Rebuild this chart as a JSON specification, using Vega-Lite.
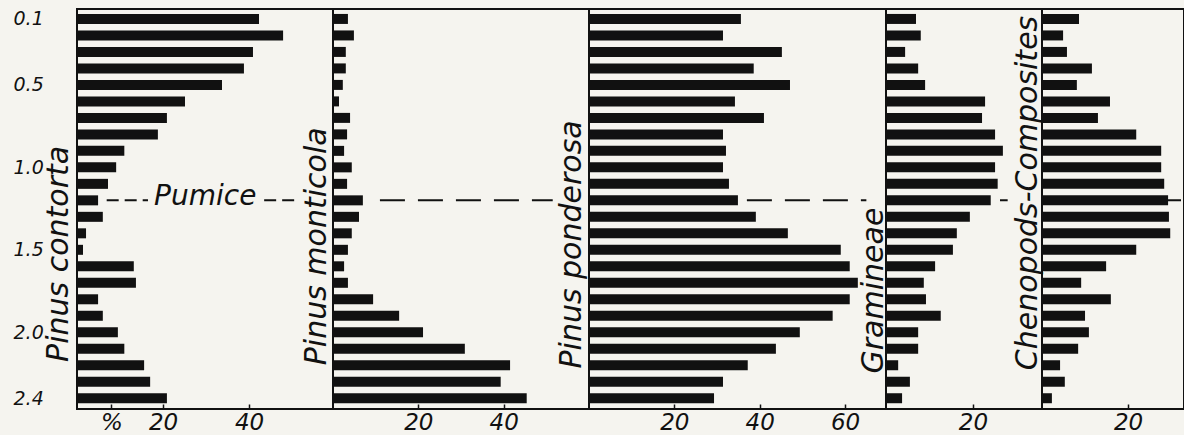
{
  "$schema": "https://vega.github.io/schema/vega-lite/v6.json",
  "background": "#f5f4ef",
  "padding": {"left": 12, "top": 8, "right": 0, "bottom": 0},
  "bounds": "flush",
  "spacing": 0,
  "config": {
    "view": {"stroke": "#111", "strokeWidth": 2},
    "axis": {"grid": false, "domain": false, "title": null, "labelColor": "#111", "labelFont": "DejaVu Sans", "labelFontStyle": "italic", "tickColor": "#111"},
    "axisX": {"labelFontSize": 23, "tickSize": -5, "tickWidth": 1.5, "labelPadding": 7, "labelFlush": false, "labelOverlap": false, "labelBound": false}
  },
  "datasets": {
    "pollen": [
      {"depth": 0.1, "contorta": 42.3, "monticola": 3.5, "ponderosa": 35.6, "gramineae": 6.9, "chenopods": 8.6},
      {"depth": 0.2, "contorta": 47.9, "monticola": 4.9, "ponderosa": 31.4, "gramineae": 8.0, "chenopods": 4.9},
      {"depth": 0.3, "contorta": 40.9, "monticola": 3.0, "ponderosa": 45.2, "gramineae": 4.4, "chenopods": 5.8},
      {"depth": 0.4, "contorta": 38.8, "monticola": 3.0, "ponderosa": 38.6, "gramineae": 7.4, "chenopods": 11.6},
      {"depth": 0.5, "contorta": 33.7, "monticola": 2.3, "ponderosa": 47.1, "gramineae": 9.0, "chenopods": 8.1},
      {"depth": 0.6, "contorta": 25.1, "monticola": 1.4, "ponderosa": 34.2, "gramineae": 22.8, "chenopods": 15.8},
      {"depth": 0.7, "contorta": 20.9, "monticola": 4.0, "ponderosa": 41.0, "gramineae": 22.1, "chenopods": 13.0},
      {"depth": 0.8, "contorta": 18.8, "monticola": 3.3, "ponderosa": 31.4, "gramineae": 25.1, "chenopods": 21.9},
      {"depth": 0.9, "contorta": 11.0, "monticola": 2.6, "ponderosa": 32.1, "gramineae": 26.9, "chenopods": 27.7},
      {"depth": 1.0, "contorta": 9.1, "monticola": 4.4, "ponderosa": 31.4, "gramineae": 25.1, "chenopods": 27.7},
      {"depth": 1.1, "contorta": 7.2, "monticola": 3.3, "ponderosa": 32.8, "gramineae": 25.7, "chenopods": 28.4},
      {"depth": 1.2, "contorta": 4.9, "monticola": 7.0, "ponderosa": 34.9, "gramineae": 24.1, "chenopods": 29.3},
      {"depth": 1.3, "contorta": 6.0, "monticola": 6.1, "ponderosa": 39.1, "gramineae": 19.3, "chenopods": 29.5},
      {"depth": 1.4, "contorta": 2.1, "monticola": 4.4, "ponderosa": 46.6, "gramineae": 16.3, "chenopods": 29.8},
      {"depth": 1.5, "contorta": 1.4, "monticola": 3.5, "ponderosa": 59.0, "gramineae": 15.4, "chenopods": 21.9},
      {"depth": 1.6, "contorta": 13.2, "monticola": 2.6, "ponderosa": 61.1, "gramineae": 11.3, "chenopods": 14.9},
      {"depth": 1.7, "contorta": 13.7, "monticola": 3.5, "ponderosa": 63.0, "gramineae": 8.7, "chenopods": 9.1},
      {"depth": 1.8, "contorta": 4.9, "monticola": 9.4, "ponderosa": 61.1, "gramineae": 9.2, "chenopods": 16.0},
      {"depth": 1.9, "contorta": 6.0, "monticola": 15.5, "ponderosa": 57.1, "gramineae": 12.6, "chenopods": 10.0},
      {"depth": 2.0, "contorta": 9.5, "monticola": 21.1, "ponderosa": 49.4, "gramineae": 7.4, "chenopods": 10.9},
      {"depth": 2.1, "contorta": 11.0, "monticola": 30.9, "ponderosa": 43.8, "gramineae": 7.4, "chenopods": 8.4},
      {"depth": 2.2, "contorta": 15.6, "monticola": 41.5, "ponderosa": 37.2, "gramineae": 2.8, "chenopods": 4.2},
      {"depth": 2.3, "contorta": 17.0, "monticola": 39.3, "ponderosa": 31.4, "gramineae": 5.5, "chenopods": 5.3},
      {"depth": 2.4, "contorta": 20.9, "monticola": 45.4, "ponderosa": 29.3, "gramineae": 3.7, "chenopods": 2.3}
    ]
  },
  "hconcat": [
    {
      "width": 256, "height": 400,
      "layer": [
        {
          "data": {"values": [{"from": 6.9, "to": 16.5}, {"from": 43.5, "to": 51.0}]},
          "mark": {"type": "rule", "color": "#111", "strokeWidth": 2, "strokeDash": [12, 6]},
          "encoding": {"x": {"field": "from", "type": "quantitative"}, "x2": {"field": "to"}, "y": {"datum": 1.2}}
        },
        {
          "data": {"name": "pollen"},
          "mark": {"type": "bar", "orient": "horizontal", "size": 10, "color": "#111"},
          "encoding": {
            "x": {"field": "contorta", "type": "quantitative", "scale": {"domain": [0, 59.5], "nice": false, "zero": true}, "axis": {"values": [8, 20, 40], "labelExpr": "datum.value == 8 ? '%' : datum.label"}},
            "y": {"field": "depth", "type": "quantitative", "scale": {"domain": [0.07, 2.435], "reverse": true, "nice": false, "zero": false}, "axis": {"values": [0.1, 0.5, 1.0, 1.5, 2.0, 2.4], "format": ".1f", "labelAlign": "left", "labelPadding": 64, "ticks": false, "labelFontSize": 19}}
          }
        },
        {
          "data": {"values": [{"label": "Pumice"}]},
          "mark": {"type": "text", "align": "center", "baseline": "alphabetic", "dy": 5, "font": "DejaVu Sans", "fontStyle": "italic", "fontSize": 28, "color": "#111"},
          "encoding": {"x": {"datum": 29.8}, "y": {"datum": 1.2}, "text": {"field": "label"}}
        },
        {
          "data": {"values": [{"name": "Pinus contorta"}]},
          "mark": {"type": "text", "angle": -90, "align": "left", "baseline": "alphabetic", "dy": -9, "font": "DejaVu Sans", "fontStyle": "italic", "fontSize": 30, "color": "#111"},
          "encoding": {"x": {"datum": 0}, "y": {"datum": 2.18}, "text": {"field": "name"}}
        }
      ]
    },
    {
      "width": 256, "height": 400,
      "layer": [
        {
          "data": {"values": [{"from": 11, "to": 51.5}]},
          "mark": {"type": "rule", "color": "#111", "strokeWidth": 2, "strokeDash": [25, 13]},
          "encoding": {"x": {"field": "from", "type": "quantitative"}, "x2": {"field": "to"}, "y": {"datum": 1.2}}
        },
        {
          "data": {"name": "pollen"},
          "mark": {"type": "bar", "orient": "horizontal", "size": 10, "color": "#111"},
          "encoding": {
            "x": {"field": "monticola", "type": "quantitative", "scale": {"domain": [0, 60], "nice": false, "zero": true}, "axis": {"values": [20, 40]}},
            "y": {"field": "depth", "type": "quantitative", "scale": {"domain": [0.07, 2.435], "reverse": true, "nice": false, "zero": false}, "axis": null}
          }
        },
        {
          "data": {"values": [{"name": "Pinus monticola"}]},
          "mark": {"type": "text", "angle": -90, "align": "left", "baseline": "alphabetic", "dy": -7, "font": "DejaVu Sans", "fontStyle": "italic", "fontSize": 30, "color": "#111"},
          "encoding": {"x": {"datum": 0}, "y": {"datum": 2.2}, "text": {"field": "name"}}
        }
      ]
    },
    {
      "width": 297, "height": 400,
      "layer": [
        {
          "data": {"values": [{"from": 37, "to": 65}]},
          "mark": {"type": "rule", "color": "#111", "strokeWidth": 2, "strokeDash": [25, 13]},
          "encoding": {"x": {"field": "from", "type": "quantitative"}, "x2": {"field": "to"}, "y": {"datum": 1.2}}
        },
        {
          "data": {"name": "pollen"},
          "mark": {"type": "bar", "orient": "horizontal", "size": 10, "color": "#111"},
          "encoding": {
            "x": {"field": "ponderosa", "type": "quantitative", "scale": {"domain": [0, 69.6], "nice": false, "zero": true}, "axis": {"values": [20, 40, 60]}},
            "y": {"field": "depth", "type": "quantitative", "scale": {"domain": [0.07, 2.435], "reverse": true, "nice": false, "zero": false}, "axis": null}
          }
        },
        {
          "data": {"values": [{"name": "Pinus ponderosa"}]},
          "mark": {"type": "text", "angle": -90, "align": "left", "baseline": "alphabetic", "dy": -8, "font": "DejaVu Sans", "fontStyle": "italic", "fontSize": 30, "color": "#111"},
          "encoding": {"x": {"datum": 0}, "y": {"datum": 2.22}, "text": {"field": "name"}}
        }
      ]
    },
    {
      "width": 156, "height": 400,
      "layer": [
        {
          "data": {"values": [{"from": 0, "to": 28}]},
          "mark": {"type": "rule", "color": "#111", "strokeWidth": 2, "strokeDash": [25, 13]},
          "encoding": {"x": {"field": "from", "type": "quantitative"}, "x2": {"field": "to"}, "y": {"datum": 1.2}}
        },
        {
          "data": {"name": "pollen"},
          "mark": {"type": "bar", "orient": "horizontal", "size": 10, "color": "#111"},
          "encoding": {
            "x": {"field": "gramineae", "type": "quantitative", "scale": {"domain": [0, 35.9], "nice": false, "zero": true}, "axis": {"values": [20]}},
            "y": {"field": "depth", "type": "quantitative", "scale": {"domain": [0.07, 2.435], "reverse": true, "nice": false, "zero": false}, "axis": null}
          }
        },
        {
          "data": {"values": [{"name": "Gramineae"}]},
          "mark": {"type": "text", "angle": -90, "align": "left", "baseline": "alphabetic", "dy": -3, "font": "DejaVu Sans", "fontStyle": "italic", "fontSize": 30, "color": "#111"},
          "encoding": {"x": {"datum": 0}, "y": {"datum": 2.25}, "text": {"field": "name"}}
        }
      ]
    },
    {
      "width": 142, "height": 400,
      "layer": [
        {
          "data": {"values": [{"from": 0, "to": 33}]},
          "mark": {"type": "rule", "color": "#111", "strokeWidth": 2, "strokeDash": [25, 13]},
          "encoding": {"x": {"field": "from", "type": "quantitative"}, "x2": {"field": "to"}, "y": {"datum": 1.2}}
        },
        {
          "data": {"name": "pollen"},
          "mark": {"type": "bar", "orient": "horizontal", "size": 10, "color": "#111"},
          "encoding": {
            "x": {"field": "chenopods", "type": "quantitative", "scale": {"domain": [0, 33], "nice": false, "zero": true}, "axis": {"values": [20]}},
            "y": {"field": "depth", "type": "quantitative", "scale": {"domain": [0.07, 2.435], "reverse": true, "nice": false, "zero": false}, "axis": null}
          }
        },
        {
          "data": {"values": [{"name": "Chenopods-Composites"}]},
          "mark": {"type": "text", "angle": -90, "align": "left", "baseline": "alphabetic", "dy": -5, "font": "DejaVu Sans", "fontStyle": "italic", "fontSize": 30, "color": "#111"},
          "encoding": {"x": {"datum": 0}, "y": {"datum": 2.23}, "text": {"field": "name"}}
        }
      ]
    }
  ]
}
